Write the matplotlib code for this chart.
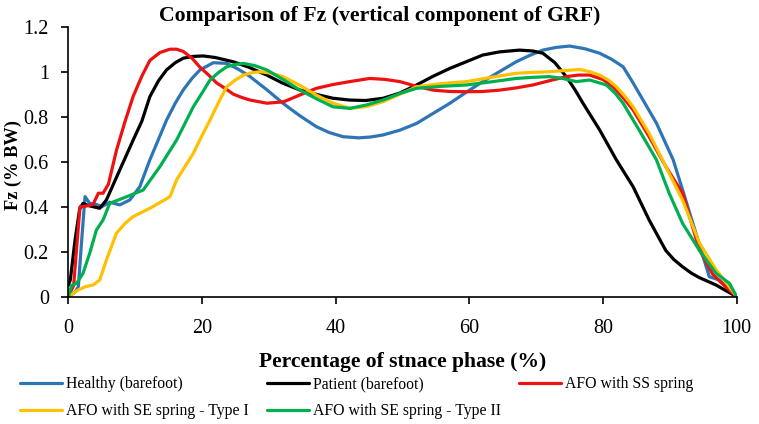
import matplotlib
matplotlib.use('Agg')
import matplotlib.pyplot as plt
from matplotlib.ticker import FuncFormatter, MultipleLocator

FONT = 'Liberation Serif'
plt.rcParams['font.family'] = [FONT, 'DejaVu Serif']

# ---------------- data ----------------
title = 'Comparison of Fz (vertical component of GRF)'
xlabel = 'Percentage of stnace phase (%)'
ylabel = 'Fz (% BW)'

labels = ['Healthy (barefoot)', 'Patient (barefoot)', 'AFO with SS spring',
          'AFO with SE spring - Type I', 'AFO with SE spring - Type II']
colors = ['#2E75B6', '#000000', '#EE1111', '#FFC000', '#00B050']

healthy_x = [0, 1.0, 1.5, 2.0, 2.5, 3.2, 4.2, 5.0, 6.2, 7.7, 9.2, 10.7, 12.2, 13.5, 14.7,
             16.0, 17.2, 18.5, 19.7, 21.7, 23.7, 25.5, 27.2, 29.7, 32.1, 34.6, 37.1, 39.0,
             41.1, 43.5, 45.3, 47.1, 49.6, 52.1, 54.6, 57.1, 59.6, 62.0, 64.5, 67.0, 69.0,
             71.0, 73.0, 75.0, 77.3, 79.5, 81.3, 83.0, 84.3, 85.4, 88.0, 90.5, 91.9, 93.9,
             95.9, 97.4, 100]
healthy_y = [0, 0.02, 0.044, 0.25, 0.445, 0.415, 0.41, 0.40, 0.42, 0.408, 0.43, 0.489, 0.608,
             0.70, 0.785, 0.86, 0.919, 0.97, 1.008, 1.04, 1.037, 1.01, 0.978, 0.92, 0.86,
             0.805, 0.756, 0.73, 0.711, 0.706, 0.71, 0.719, 0.74, 0.77, 0.815, 0.86, 0.91,
             0.956, 1.0, 1.044, 1.072, 1.096, 1.108, 1.114, 1.102, 1.082, 1.055, 1.022, 0.96,
             0.904, 0.771, 0.608, 0.475, 0.282, 0.089, 0.074, 0]

patient_x = [0, 0.3, 1.0, 1.7, 2.2, 3.0, 3.7, 4.7, 5.7, 7.2, 9.7, 11.0, 12.2, 13.5, 14.7,
             16.0, 17.2, 18.7, 20.2, 22.0, 24.7, 27.0, 29.7, 32.0, 34.6, 37.0, 39.6, 42.1,
             44.5, 47.1, 49.6, 52.1, 54.6, 57.1, 59.6, 62.0, 64.5, 67.5, 69.5, 71.0, 72.8,
             74.5, 75.8, 77.0, 79.5, 82.0, 84.5, 86.9, 88.2, 89.4, 90.6, 91.9, 93.2, 94.4,
             96.9, 98.5, 100]
patient_y = [0.05, 0.074, 0.25, 0.39, 0.415, 0.405, 0.40, 0.393, 0.43, 0.53, 0.696, 0.78,
             0.889, 0.96, 1.008, 1.04, 1.06, 1.068, 1.07, 1.063, 1.044, 1.02, 0.985, 0.95,
             0.919, 0.90, 0.882, 0.874, 0.872, 0.882, 0.905, 0.941, 0.98, 1.015, 1.045,
             1.074, 1.088, 1.096, 1.092, 1.082, 1.04, 0.978, 0.92, 0.86, 0.741, 0.608, 0.489,
             0.341, 0.27, 0.205, 0.165, 0.133, 0.105, 0.085, 0.052, 0.025, 0]

ss_x = [0, 0.8, 1.2, 1.75, 2.2, 3.0, 3.7, 4.5, 5.2, 6.0, 7.2, 8.5, 9.7, 11.0, 12.2, 13.7,
        15.2, 16.2, 17.2, 18.5, 19.7, 21.0, 22.2, 23.5, 24.7, 26.0, 27.2, 29.7, 32.2, 34.6,
        37.1, 39.6, 42.1, 45.1, 47.3, 49.6, 52.1, 54.6, 57.1, 59.6, 62.0, 64.5, 67.0, 69.5,
        72.0, 74.5, 76.3, 78.0, 80.0, 81.5, 83.0, 84.5, 86.9, 89.4, 91.9, 94.4, 96.4, 98.5,
        100]
ss_y = [0, 0.05, 0.2, 0.4, 0.4, 0.405, 0.41, 0.46, 0.46, 0.5, 0.65, 0.78, 0.89, 0.98, 1.05,
        1.085, 1.10, 1.10, 1.09, 1.06, 1.02, 0.985, 0.95, 0.925, 0.90, 0.885, 0.874, 0.86,
        0.866, 0.896, 0.926, 0.943, 0.956, 0.97, 0.966, 0.956, 0.935, 0.918, 0.912, 0.911,
        0.912, 0.918, 0.928, 0.941, 0.96, 0.978, 0.985, 0.985, 0.965, 0.933, 0.885, 0.83,
        0.711, 0.578, 0.46, 0.21, 0.10, 0.04, 0]

se1_x = [0, 0.5, 1.5, 2.5, 3.7, 4.7, 5.7, 7.2, 8.5, 9.7, 12.2, 15.2, 16.2, 18.7, 19.9, 21.2,
         22.5, 23.7, 25.0, 26.2, 27.5, 28.7, 30.4, 32.1, 34.6, 37.1, 39.6, 42.1, 44.6, 47.1,
         49.6, 52.1, 55.8, 59.6, 63.3, 67.0, 69.5, 72.0, 74.3, 76.5, 78.0, 79.5, 80.8, 82.0,
         83.3, 84.5, 86.9, 89.4, 91.9, 94.4, 96.9, 98.5, 100]
se1_y = [0, 0.01, 0.03, 0.044, 0.052, 0.074, 0.163, 0.282, 0.326, 0.356, 0.393, 0.444, 0.519,
         0.637, 0.71, 0.785, 0.865, 0.933, 0.963, 0.985, 0.996, 1.0, 0.993, 0.978, 0.94,
         0.896, 0.86, 0.837, 0.845, 0.867, 0.9, 0.933, 0.947, 0.956, 0.975, 0.993, 0.997,
         1.0, 1.005, 1.01, 1.0, 0.985, 0.963, 0.933, 0.89, 0.844, 0.726, 0.578, 0.43, 0.24,
         0.12, 0.06, 0]

se2_x = [0, 0.5, 1.25, 2.2, 3.2, 4.2, 5.2, 6.2, 8.7, 11.2, 13.7, 16.2, 18.7, 20.0, 21.2,
         22.5, 23.7, 25.0, 26.2, 27.9, 29.7, 32.1, 34.6, 37.1, 39.6, 42.1, 44.6, 47.1, 49.6,
         52.1, 55.8, 59.6, 63.3, 67.0, 69.5, 72.0, 74.0, 76.0, 78.0, 80.5, 81.8, 83.0, 84.2,
         85.4, 88.0, 89.9, 91.9, 94.4, 96.9, 98.9, 100]
se2_y = [0, 0.05, 0.06, 0.104, 0.193, 0.296, 0.341, 0.415, 0.444, 0.474, 0.578, 0.696, 0.844,
         0.905, 0.963, 0.997, 1.022, 1.032, 1.037, 1.027, 1.008, 0.966, 0.919, 0.88, 0.844,
         0.837, 0.852, 0.874, 0.903, 0.926, 0.935, 0.941, 0.955, 0.97, 0.975, 0.978, 0.97,
         0.956, 0.963, 0.941, 0.905, 0.86, 0.80, 0.741, 0.608, 0.46, 0.326, 0.207, 0.104,
         0.06, 0]

series = [(healthy_x, healthy_y), (patient_x, patient_y), (ss_x, ss_y),
          (se1_x, se1_y), (se2_x, se2_y)]

# ---------------- figure ----------------
W, H = 759, 424
fig = plt.figure(figsize=(W / 100, H / 100), dpi=100)
x0, x1, y0, y1 = 68.3, 736.7, 296.7, 26.7
ax = fig.add_axes([x0 / W, 1 - y0 / H, (x1 - x0) / W, (y0 - y1) / H])
renderer = fig.canvas.get_renderer()


def fit(s, target, weight='normal'):
    t = fig.text(0, 0, s, fontsize=10, fontweight=weight)
    w = t.get_window_extent(renderer).width
    t.remove()
    return 10 * target / w


handles = []
for (xs, ys), c, lab in zip(series, colors, labels):
    h, = ax.plot(xs, ys, color=c, lw=2.3, label=lab, solid_joinstyle='round',
                 solid_capstyle='round')
    handles.append(h)

ax.set_xlim(0, 100)
ax.set_ylim(0, 1.2)
ax.xaxis.set_major_locator(MultipleLocator(20))
ax.yaxis.set_major_locator(MultipleLocator(0.2))
ax.yaxis.set_major_formatter(FuncFormatter(lambda v, p: f'{v:g}'))
for s in ['top', 'right']:
    ax.spines[s].set_visible(False)
for s in ['left', 'bottom']:
    ax.spines[s].set_linewidth(1.2)
tick_fs = fit('100', 30)
ax.tick_params(axis='both', direction='out', length=5, width=1.2, labelsize=tick_fs)
ax.tick_params(axis='x', pad=11)
ax.tick_params(axis='y', pad=9)

fig.text(0.5, 1 - 21 / H, title, ha='center', va='baseline',
         fontsize=fit(title, 441, 'bold'), fontweight='bold')
fig.text((x0 + x1) / 2 / W, 1 - 367.3 / H, xlabel, ha='center', va='baseline',
         fontsize=fit(xlabel, 289, 'bold'), fontweight='bold')
fig.text(13 / W, 1 - 165 / H, ylabel, ha='center', va='center', rotation=90,
         fontsize=fit(ylabel, 90, 'bold'), fontweight='bold')

leg_fs = fit('Healthy (barefoot)', 117)
fs_px = leg_fs * 100 / 72
order = [0, 3, 1, 4, 2]
fig.legend([handles[i] for i in order], [labels[i] for i in order],
           ncol=3, loc='upper left', frameon=False, fontsize=leg_fs,
           bbox_to_anchor=(20 / W, 1 - (385.5 - 0.6 * fs_px) / H),
           borderpad=0, borderaxespad=0,
           handlelength=42 / fs_px, handletextpad=4 / fs_px,
           columnspacing=18 / fs_px, labelspacing=(29.5 - 1.15 * fs_px) / fs_px)

fig.savefig('out.png', dpi=100)
